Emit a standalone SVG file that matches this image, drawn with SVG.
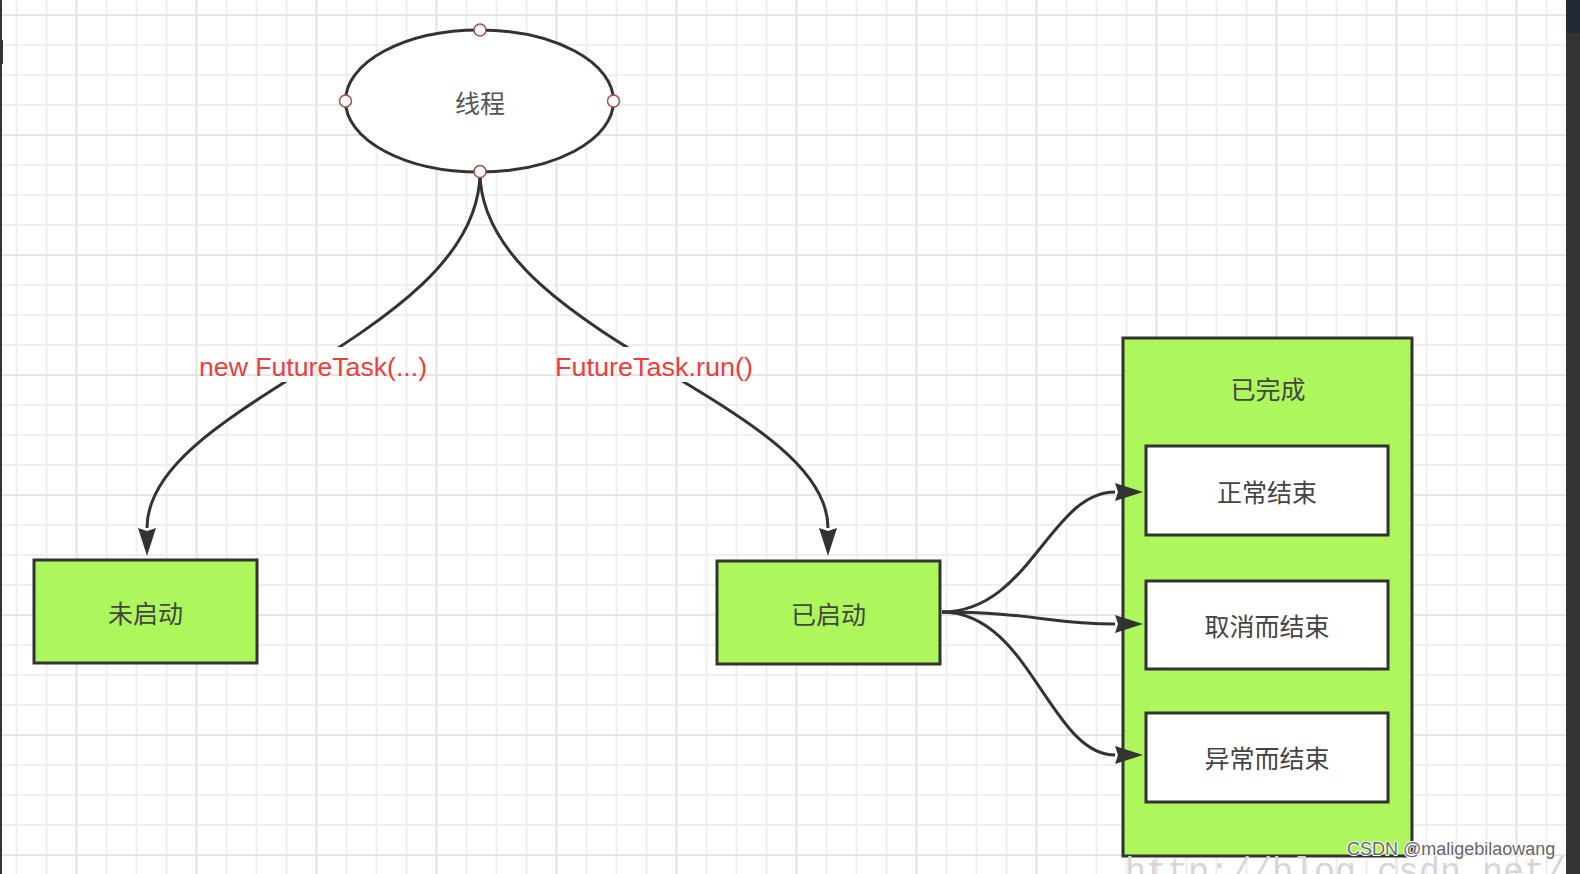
<svg xmlns="http://www.w3.org/2000/svg" width="1580" height="874" viewBox="0 0 1580 874">
  <defs>
    <pattern id="gridMinor" width="30" height="30" patternUnits="userSpaceOnUse" x="15.5" y="14">
      <path d="M1,0 V30 M0,1 H30" stroke="#efefef" stroke-width="2" fill="none"/>
    </pattern>
    <pattern id="gridMajor" width="120" height="120" patternUnits="userSpaceOnUse" x="75.5" y="134">
      <path d="M1,0 V120 M0,1 H120" stroke="#e5e5e5" stroke-width="2" fill="none"/>
    </pattern>
    <marker id="arrow" markerUnits="userSpaceOnUse" markerWidth="28" markerHeight="18" refX="0" refY="9" orient="auto" viewBox="0 0 28 18">
      <path d="M0,0 L28,9 L0,18 L3,9 z" fill="#333"/>
    </marker>
    <mask id="labelMask" maskUnits="userSpaceOnUse" x="0" y="0" width="1580" height="874">
      <rect x="0" y="0" width="1580" height="874" fill="#fff"/>
      <rect x="195" y="347" width="236" height="35" fill="#000"/>
      <rect x="550" y="347" width="208" height="35" fill="#000"/>
    </mask>
    <style>
      .box { fill: #adf65c; stroke: #333; stroke-width: 3; }
      .inner { fill: #fff; stroke: #333; stroke-width: 3; }
      .edge { fill: none; stroke: #333; stroke-width: 3; marker-end: url(#arrow); }
      .port { fill: #fff; stroke: #a84a4a; stroke-width: 1.5; }
      .cn { font-family: "Noto Sans CJK SC", "Microsoft YaHei", sans-serif; font-size: 25px; fill: #444; text-anchor: middle; dominant-baseline: central; }
      .lbl { font-family: "Liberation Sans", Arial, sans-serif; font-size: 25px; fill: #f23b3b; text-anchor: middle; }
    </style>
  </defs>

  <rect x="0" y="0" width="1580" height="874" fill="#fff"/>
  <rect x="0" y="0" width="1580" height="874" fill="url(#gridMinor)"/>
  <rect x="0" y="0" width="1580" height="874" fill="url(#gridMajor)"/>

  <g id="thread">
    <ellipse cx="479.5" cy="101" rx="134" ry="71" fill="#fff" stroke="#333" stroke-width="3"/>
    <text class="cn" x="480" y="102" style="fill:#555">线程</text>
    <circle class="port" cx="480" cy="30" r="6"/>
    <circle class="port" cx="345.5" cy="101" r="6"/>
    <circle class="port" cx="613.5" cy="101" r="6"/>
  </g>

  <g id="not-started">
    <rect class="box" x="34" y="560" width="223" height="103"/>
    <text class="cn" x="145.5" y="612">未启动</text>
  </g>

  <g id="started">
    <rect class="box" x="717" y="561" width="223" height="103"/>
    <text class="cn" x="828.5" y="613">已启动</text>
  </g>

  <g id="completed">
    <rect class="box" x="1123" y="338" width="289" height="518"/>
    <text class="cn" x="1268" y="388">已完成</text>
  </g>

  <g id="normal-end">
    <rect class="inner" x="1146" y="446" width="242" height="89"/>
    <text class="cn" x="1267" y="491">正常结束</text>
  </g>

  <g id="cancel-end">
    <rect class="inner" x="1146" y="581" width="242" height="88"/>
    <text class="cn" x="1267" y="625">取消而结束</text>
  </g>

  <g id="error-end">
    <rect class="inner" x="1146" y="713" width="242" height="89"/>
    <text class="cn" x="1267" y="757">异常而结束</text>
  </g>

  <g id="connectors">
    <g mask="url(#labelMask)">
      <path class="edge" d="M480,172 C480,335 147,402 147,528"/>
      <path class="edge" d="M480,172 C480,335 828,402 828,528"/>
    </g>
    <path class="edge" d="M942,612 C1030,612 1050,492 1115,492"/>
    <path class="edge" d="M942,612 C1030,612 1050,624 1115,624"/>
    <path class="edge" d="M942,612 C1030,612 1050,755 1115,755"/>
    <text class="lbl" x="313" y="376" textLength="228" lengthAdjust="spacingAndGlyphs">new FutureTask(...)</text>
    <text class="lbl" x="654" y="376" textLength="198" lengthAdjust="spacingAndGlyphs">FutureTask.run()</text>
  </g>

  <circle class="port" cx="480" cy="171.5" r="6"/>

  <text x="1125" y="882" font-family="Liberation Mono, monospace" font-size="35" fill="#d6d6d6">http://blog.csdn.net/</text>
  <text x="1347" y="855" font-family="Liberation Sans, Arial, sans-serif" font-size="18" fill="#666" stroke="#fff" stroke-width="2" paint-order="stroke" stroke-linejoin="round">CSDN @maligebilaowang</text>

  <rect x="0" y="0" width="2" height="874" fill="#333"/>
  <rect x="0" y="40" width="3" height="24" fill="#333"/>
  <rect x="1566" y="0" width="14" height="874" fill="#333"/>
  <rect x="1566" y="0" width="14" height="33" fill="#232a33"/>
</svg>
